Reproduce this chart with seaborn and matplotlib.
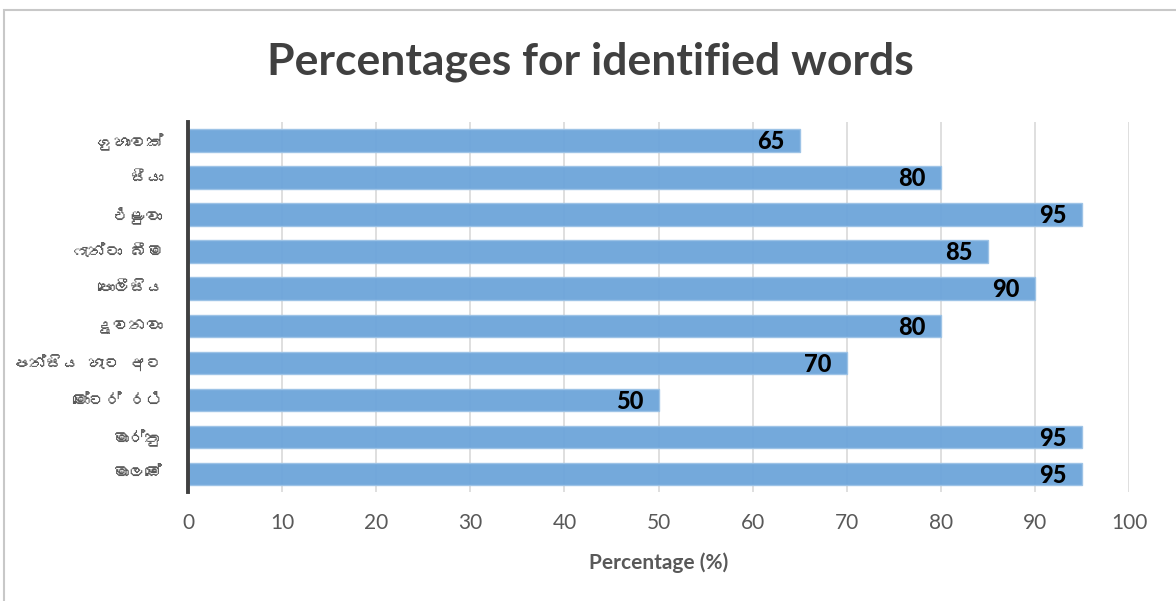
import matplotlib
matplotlib.use("Agg")
import matplotlib.pyplot as plt
import seaborn as sns
import pandas as pd
from matplotlib import font_manager
from matplotlib.ft2font import FT2Font
from matplotlib.patches import Rectangle

# Words and the share of respondents who identified each one
words = ["ගුහාවක්", "සීයා", "එළුවා", "ෆැන්ටා බීම", "පොලීසිය",
         "දුවනවා", "පන්සිය හැට අට", "මෝටර් රථ", "මාර්තු", "මාලඹේ"]
percentages = [65, 80, 95, 85, 90, 80, 70, 50, 95, 95]
x_ticks = [0, 10, 20, 30, 40, 50, 60, 70, 80, 90, 100]

title_text = "Percentages for identified words"
x_label = "Percentage (%)"


def find_font_for(codepoint):
    """Return the family name of an installed font covering the code point."""
    for path in sorted(font_manager.findSystemFonts()):
        try:
            if codepoint in FT2Font(path).get_charmap():
                return font_manager.FontProperties(fname=path).get_name()
        except Exception:
            continue
    return None


sns.set_theme(style="white")
base_family = "Lato"
sinhala_family = find_font_for(0x0D9A)
label_families = [f for f in (sinhala_family, "Noto Sans", "DejaVu Sans") if f]
plt.rcParams["font.family"] = [base_family, "DejaVu Sans"]

df = pd.DataFrame({"word": words, "pct": percentages})

fig = plt.figure(figsize=(11.76, 6.01), dpi=100)
ax = fig.add_axes([0.160, 0.181, 0.800, 0.616])

sns.barplot(data=df, x="pct", y="word", orient="h", ax=ax,
            color="#6fa6da", saturation=1, width=0.6,
            edgecolor="#9dc3e6", linewidth=1.0, alpha=0.97, zorder=2)

ax.set_xlim(0, 100)
ax.set_xticks(x_ticks)
ax.set_xticklabels([str(t) for t in x_ticks])
ax.xaxis.grid(True, color="#d9d9d9", linewidth=1.2, zorder=0)
ax.set_axisbelow(True)
ax.yaxis.grid(False)

for side in ("top", "right", "bottom"):
    ax.spines[side].set_visible(False)
ax.spines["left"].set_color("#404040")
ax.spines["left"].set_linewidth(2.8)
ax.spines["left"].set_zorder(3)

ax.tick_params(axis="x", length=0, pad=15, labelsize=15, labelcolor="#595959")
ax.tick_params(axis="y", length=0, pad=18, labelsize=12, labelcolor="#595959")
for lbl in ax.get_yticklabels():
    lbl.set_fontfamily(label_families)

ax.set_xlabel(x_label, fontsize=15, fontweight="bold", color="#595959", labelpad=14)
ax.set_ylabel("")

# Value labels anchored at the end of each bar
for i, v in enumerate(percentages):
    ax.annotate(str(v), xy=(v, i), xytext=(-11, -1), textcoords="offset points",
                ha="right", va="center", fontsize=17, fontweight="black",
                color="black", zorder=4)

fig.text(0.502, 0.897, title_text, ha="center", va="center",
         fontsize=32, fontweight="bold", color="#404040")

# Light frame around the chart area
fig.patches.append(Rectangle((3.5 / 1176, -0.05), 1.1, 1 - 10.5 / 601 + 0.05,
                             transform=fig.transFigure, fill=False,
                             edgecolor="#c8c8c8", linewidth=1.5, zorder=0))

fig.savefig("out.png", dpi=100, facecolor="white")
